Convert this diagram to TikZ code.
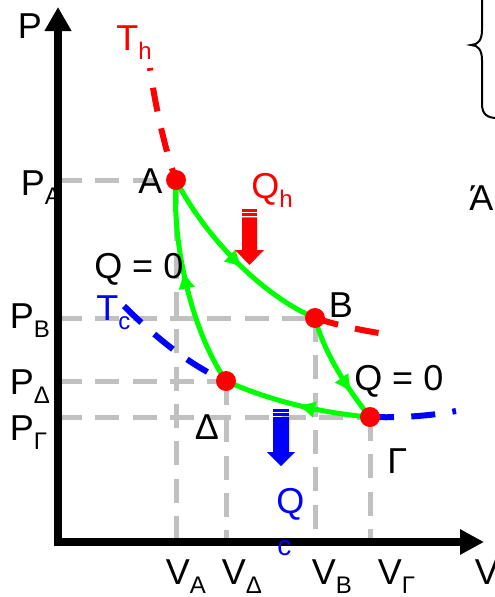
\documentclass[tikz,border=0pt]{standalone}
\usepackage{fontspec}
\setmainfont{Liberation Sans}
\usetikzlibrary{arrows.meta,decorations.markings}
\newcommand\sbs[1]{\raisebox{-6.75pt}{\fontsize{18}{20}\selectfont #1}}
\definecolor{guide}{HTML}{C0C0C0}
\definecolor{pvred}{HTML}{FF0000}
\definecolor{pvgreen}{HTML}{00FF00}
\definecolor{pvblue}{HTML}{0000FF}
\begin{document}
\begin{tikzpicture}[x=0.75pt,y=-0.75pt,
  lbl/.style={inner sep=0pt, anchor=base west, font=\fontsize{27}{30}\selectfont},
  guideline/.style={draw=guide, line width=3.75pt, dash pattern=on 18pt off 10pt},
  iso/.style={line width=4.5pt, dash pattern=on 18pt off 13pt},
  cyc/.style={color=pvgreen, line width=3.75pt},
  dot/.style={circle, fill=pvred, minimum size=15pt, inner sep=0pt},
  midarrow/.style={postaction={decorate, decoration={markings, mark=at position #1 with {\arrow{Latex[length=14pt,width=13pt]}}}}}
]
\useasboundingbox (0,0) rectangle (495,597);
% key positions
\coordinate (O) at (58,542);
\coordinate (ytip) at (58,7);
\coordinate (xtip) at (484,542);
\coordinate (A) at (176,180);
\coordinate (B) at (315,318);
\coordinate (G) at (370,417);
\coordinate (D) at (226,381);
\coordinate (th0) at (150,68);
\coordinate (th1) at (385,334);
\coordinate (tc0) at (124,306);
\coordinate (tc1) at (456,411);
% guide lines
\draw[guideline] (A -| O) -- (A);
\draw[guideline] (B -| O) -- (B);
\draw[guideline] (D -| O) -- (D);
\draw[guideline] (G -| O) -- (G);
\draw[guideline] (A) -- (A |- O);
\draw[guideline] (D) -- (D |- O);
\draw[guideline] (B) -- (B |- O);
\draw[guideline] (G) -- (G |- O);
% axes
\draw[line width=6pt, line join=miter, {Triangle[length=18pt,width=19pt]}-{Triangle[length=18pt,width=18pt]}] (ytip) -- (O) -- (xtip);
% isotherms
\draw[iso, pvred, dash phase=16pt] (th0) .. controls (155,105) and (165,150) .. (A);
\draw[iso, pvred] (B) .. controls (340,326) and (360,330) .. (th1);
\draw[iso, pvblue] (tc0) .. controls (160,342) and (195,368) .. (D);
\draw[iso, pvblue] (G) .. controls (400,418) and (430,416) .. (tc1);
% cycle
\draw[cyc, midarrow=0.56] (A) .. controls (200,228) and (255,292) .. (B);
\draw[cyc, midarrow=0.74] (B) .. controls (322,345) and (340,380) .. (G);
\draw[cyc, midarrow=0.5] (G) .. controls (320,413) and (268,400) .. (D);
\draw[cyc, midarrow=0.57] (D) .. controls (188,325) and (172,235) .. (A);
% state points
\foreach \p in {A,B,G,D} \node[dot] (dot\p) at (\p) {};
% heat arrows
\fill[pvred] (242,217.3) -- (257,217.3) -- (257,250) -- (264,250) -- (249.5,265) -- (235,250) -- (242,250) -- cycle;
\fill[pvred] (242,209.3) rectangle (257,211.7);
\fill[pvred] (242,213.3) rectangle (257,215.7);
\fill[pvblue] (273,417) -- (289,417) -- (289,452) -- (295,452) -- (281,466) -- (267,452) -- (273,452) -- cycle;
\fill[pvblue] (273,409.3) rectangle (289,411.5);
\fill[pvblue] (273,413) rectangle (289,415.5);
% brace
\draw[line width=1.5pt] (482,-5) -- (482,30) .. controls (482,40) and (478,45) .. (471,45) .. controls (478,45) and (482,50) .. (482,60) -- (482,104) .. controls (482,114) and (487,118) .. (497,118);
% labels
\node[lbl] (lP) at (17.5,38) {P};
\node[lbl, text=pvred] (lTh) at (116,50) {T\sbs{h}};
\node[lbl] (lPA) at (20.5,195) {P\sbs{A}};
\node[lbl] (lA) at (138,193) {A};
\node[lbl, text=pvred] (lQh) at (251,198) {Q\sbs{h}};
\node[lbl] (lQ0a) at (94,278) {Q = 0};
\node[lbl, text=pvblue] (lTc) at (96,320) {T\sbs{c}};
\node[lbl] (lPB) at (9.5,328) {P\sbs{B}};
\node[lbl] (lB) at (328.5,317) {B};
\node[lbl] (lPD) at (9.5,394) {P\sbs{Δ}};
\node[lbl] (lPG) at (9.5,440) {P\sbs{Γ}};
\node[lbl] (lD) at (194.5,439) {Δ};
\node[lbl] (lQ0b) at (354,390) {Q = 0};
\node[lbl] (lG) at (387,473) {Γ};
\node[lbl, text=pvblue] (lQc) at (276,513) {Q};
\node[lbl, text=pvblue, font=\fontsize{21}{24}\selectfont] (lQcs) at (277,555) {c};
\node[lbl] (lVA) at (165.5,584.5) {V\sbs{A}};
\node[lbl] (lVD) at (221.5,584.5) {V\sbs{Δ}};
\node[lbl] (lVB) at (311.5,584.5) {V\sbs{B}};
\node[lbl] (lVG) at (377.5,584.5) {V\sbs{Γ}};
\node[lbl] (lV) at (474.5,584.5) {V};
\node[lbl] (lAt) at (469,210) {Ά};
\end{tikzpicture}
\end{document}
